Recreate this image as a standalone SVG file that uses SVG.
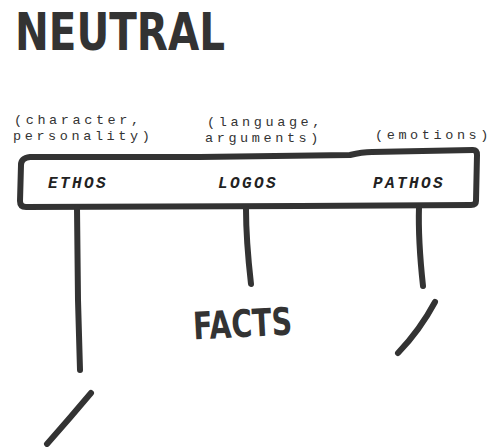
<svg xmlns="http://www.w3.org/2000/svg" width="491" height="447" viewBox="0 0 491 447">
<style>
.ink{fill:none;stroke:#333;stroke-width:6;stroke-linecap:round;stroke-linejoin:round}
.hand{fill:#333;font-family:"DejaVu Sans","Liberation Sans",sans-serif;font-weight:bold}
.note{fill:#333;font-family:"Liberation Mono","DejaVu Sans Mono",monospace;font-size:13.5px;letter-spacing:3.6px}
.lab{fill:#222;font-family:"Liberation Mono","DejaVu Sans Mono",monospace;font-size:16px;font-weight:bold;font-style:italic;letter-spacing:2.4px}
</style>
<rect width="491" height="447" fill="#fff"/>
<g id="title">
<text class="hand" x="15" y="50" font-size="52" textLength="210" lengthAdjust="spacingAndGlyphs">NEUTRAL</text>
</g>
<g id="notes">
<text class="note" x="14" y="124">(character,</text>
<text class="note" x="13" y="140">personality)</text>
<text class="note" x="207" y="126">(language,</text>
<text class="note" x="205" y="142">arguments)</text>
<text class="note" x="375" y="139">(emotions)</text>
</g>
<g id="bar">
<path class="ink" d="M21,165 Q21,158 30,157 L200,157 L350,155 Q362,152 372,152 L473,150 Q477,150 477,155 L476,201 Q476,205 471,205 L300,206 L26,207 Q20,207 20,201 Z"/>
<text class="lab" x="48" y="188">ETHOS</text>
<text class="lab" x="218" y="188">LOGOS</text>
<text class="lab" x="373" y="188">PATHOS</text>
</g>
<g id="facts">
<text class="hand" x="193" y="337" font-size="38" textLength="99" lengthAdjust="spacingAndGlyphs" transform="rotate(-3 242 322)">FACTS</text>
</g>
<g id="connectors">
<path class="ink" d="M77,208 L78,300 L80,370"/>
<path class="ink" d="M246,209 Q246,240 251,284"/>
<path class="ink" d="M419,207 Q418,240 423,286"/>
<path class="ink" d="M435,302 Q420,330 398,353" stroke-width="4"/>
<path class="ink" d="M91,393 Q70,418 47,444" stroke-width="4"/>
</g>
</svg>
